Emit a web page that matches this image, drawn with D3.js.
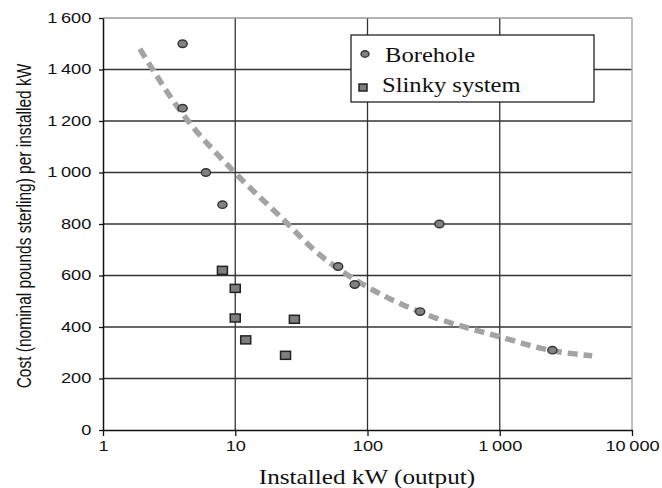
<!DOCTYPE html>
<html>
<head>
<meta charset="utf-8">
<script src="https://cdn.jsdelivr.net/npm/d3@7"></script>
<style>
  body { margin: 0; background: #fff; }
  svg { display: block; }
</style>
</head>
<body>
<div id="chart"></div>
<script>
// values
var boreholeKW   = [4, 4, 6, 8, 60, 80, 250, 350, 2500];
var boreholeCost = [1500, 1250, 1000, 875, 635, 565, 460, 800, 310];

var slinkyKW   = [8, 10, 10, 12, 24, 28];
var slinkyCost = [620, 550, 435, 350, 290, 430];

// dashed trend line
var trendKW   = [1.9, 3.8, 10, 22, 41, 116, 247, 1000, 2500, 5000];
var trendCost = [1480, 1243, 998, 828, 692, 537, 459, 362, 308, 288];

var xTicks = [1, 10, 100, 1000, 10000];
var yTicks = [0, 200, 400, 600, 800, 1000, 1200, 1400, 1600];

var legendNames = ["Borehole", "Slinky system"];

var width = 662, height = 488;
var margin = { top: 18, right: 30, bottom: 58, left: 103 };
var SX = 1.3; // the picture's text is drawn a bit wide

var sans = "'Liberation Sans', Arial, sans-serif";
var serif = "'Liberation Serif', 'Times New Roman', serif";

var svg = d3.select("#chart")
    .append("svg")
    .attr("width", width)
    .attr("height", height);

var x = d3.scaleLog()
    .domain([1, 10000])
    .range([margin.left, width - margin.right - 0]);
var y = d3.scaleLinear()
    .domain([0, 1600])
    .range([height - margin.bottom, margin.top]);

var x0 = x.range()[0], x1 = x.range()[1];
var y0 = y.range()[0], y1 = y.range()[1];

// gridlines
svg.append("g").selectAll("line.hgrid")
    .data(yTicks.filter(function (d) { return d > 0 && d < 1600; }))
    .enter().append("line")
    .attr("x1", x0).attr("x2", x1)
    .attr("y1", function (d) { return y(d); })
    .attr("y2", function (d) { return y(d); })
    .attr("stroke", "#333").attr("stroke-width", 1.3);

svg.append("g").selectAll("line.vgrid")
    .data(xTicks.slice(1, -1))
    .enter().append("line")
    .attr("y1", y0).attr("y2", y1)
    .attr("x1", function (d) { return x(d); })
    .attr("x2", function (d) { return x(d); })
    .attr("stroke", "#333").attr("stroke-width", 1.3);

// top and right frame, lighter
svg.append("line")
    .attr("x1", x0).attr("x2", x1).attr("y1", y1).attr("y2", y1)
    .attr("stroke", "#999").attr("stroke-width", 1.3);
svg.append("line")
    .attr("x1", x1).attr("x2", x1).attr("y1", y1).attr("y2", y0)
    .attr("stroke", "#aaa").attr("stroke-width", 1.5);

// axes
var loc = d3.formatLocale({ decimal: ".", thousands: "\u2009", grouping: [3], currency: ["", ""] });
var fmt = loc.format(",");

var xAxis = svg.append("g")
    .attr("transform", "translate(0," + y0 + ")")
    .call(d3.axisBottom(x).tickValues(xTicks).tickFormat(fmt)
        .tickSize(6).tickSizeOuter(0).tickPadding(5));
var yAxis = svg.append("g")
    .attr("transform", "translate(" + x0 + ",0)")
    .call(d3.axisLeft(y).tickValues(yTicks).tickFormat(fmt)
        .tickSize(4).tickSizeOuter(0).tickPadding(5));

[xAxis, yAxis].forEach(function (ax) {
    ax.attr("font-family", sans).attr("font-size", 14);
    ax.select(".domain").attr("stroke", "#111").attr("stroke-width", 1.5);
    ax.selectAll(".tick line").attr("stroke", "#111").attr("stroke-width", 1.3);
    ax.selectAll(".tick text").attr("fill", "#111")
        .attr("transform", "scale(" + SX + ",1)");
});

// trend line
var trend = trendKW.map(function (d, i) { return [d, trendCost[i]]; });
svg.append("path")
    .datum(trend)
    .attr("fill", "none")
    .attr("stroke", "#a3a3a3")
    .attr("stroke-width", 5.5)
    .attr("stroke-dasharray", "10,6")
    .attr("d", d3.line()
        .x(function (d) { return x(d[0]); })
        .y(function (d) { return y(d[1]); })
        .curve(d3.curveMonotoneX));

// borehole points
svg.append("g").selectAll("ellipse")
    .data(boreholeKW.map(function (d, i) { return { kw: d, cost: boreholeCost[i] }; }))
    .enter().append("ellipse")
    .attr("cx", function (d) { return x(d.kw); })
    .attr("cy", function (d) { return y(d.cost); })
    .attr("rx", 4.6).attr("ry", 3.7)
    .attr("fill", "#828282")
    .attr("stroke", "#333").attr("stroke-width", 1.4);

// slinky points
svg.append("g").selectAll("rect")
    .data(slinkyKW.map(function (d, i) { return { kw: d, cost: slinkyCost[i] }; }))
    .enter().append("rect")
    .attr("x", function (d) { return x(d.kw) - 5; })
    .attr("y", function (d) { return y(d.cost) - 4; })
    .attr("width", 10).attr("height", 8)
    .attr("fill", "#7e7e7e")
    .attr("stroke", "#222").attr("stroke-width", 1.5);

// legend
var legend = svg.append("g");
legend.append("rect")
    .attr("x", 351).attr("y", 35)
    .attr("width", 243).attr("height", 67)
    .attr("fill", "#fff")
    .attr("stroke", "#222").attr("stroke-width", 1.3);
legend.append("ellipse")
    .attr("cx", 365).attr("cy", 54)
    .attr("rx", 4).attr("ry", 3.3)
    .attr("fill", "#828282").attr("stroke", "#333").attr("stroke-width", 1.4);
legend.append("rect")
    .attr("x", 359).attr("y", 84)
    .attr("width", 8).attr("height", 7)
    .attr("fill", "#7e7e7e").attr("stroke", "#222").attr("stroke-width", 1.5);
legend.selectAll("text")
    .data(legendNames)
    .enter().append("text")
    .attr("transform", function (d, i) {
        return i == 0 ? "translate(385,62) scale(1.23,1)"
                      : "translate(382,92) scale(1.23,1)";
    })
    .attr("font-family", serif)
    .attr("font-size", 20)
    .attr("fill", "#111")
    .text(function (d) { return d; });

// axis titles
svg.append("text")
    .attr("transform", "translate(367,484) scale(1.26,1)")
    .attr("text-anchor", "middle")
    .attr("font-family", serif)
    .attr("font-size", 20)
    .attr("fill", "#111")
    .text("Installed kW (output)");

svg.append("text")
    .attr("transform", "translate(31,226) scale(1.3,1) rotate(-90)")
    .attr("text-anchor", "middle")
    .attr("font-family", sans)
    .attr("font-size", 15.5)
    .attr("fill", "#111")
    .text("Cost (nominal pounds sterling) per installed kW");
</script>
</body>
</html>
